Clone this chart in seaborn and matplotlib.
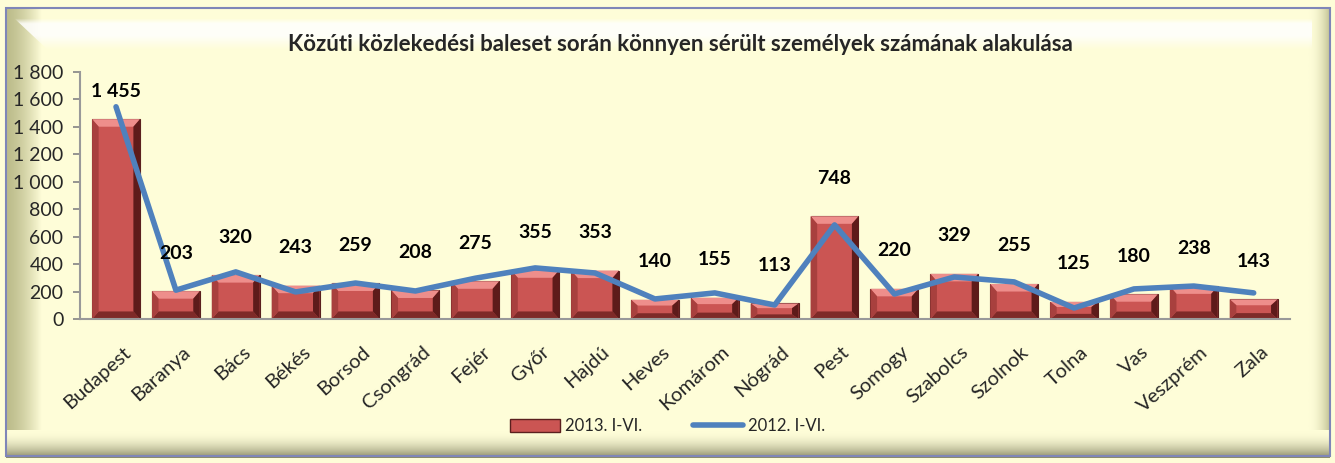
import numpy as np
import matplotlib
matplotlib.use("Agg")
import matplotlib.pyplot as plt
import matplotlib.transforms as mtransforms
import seaborn as sns
from matplotlib.ticker import FuncFormatter
from matplotlib.patches import Rectangle, Polygon, Patch
from matplotlib.lines import Line2D
from matplotlib.colors import LinearSegmentedColormap

# Data
counties = ['Budapest', 'Baranya', 'Bács', 'Békés', 'Borsod', 'Csongrád', 'Fejér', 'Győr',
            'Hajdú', 'Heves', 'Komárom', 'Nógrád', 'Pest', 'Somogy', 'Szabolcs', 'Szolnok',
            'Tolna', 'Vas', 'Veszprém', 'Zala']
injured_2013 = [1455, 203, 320, 243, 259, 208, 275, 355, 353, 140, 155, 113, 748, 220, 329, 255,
                125, 180, 238, 143]
injured_2012 = [1545, 210, 343, 197, 262, 204, 297, 372, 335, 146, 190, 102, 685, 182, 306, 270,
                80, 219, 240, 190]

title = 'Közúti közlekedési baleset során könnyen sérült személyek számának alakulása'
bar_label = '2013. I-VI.'
line_label = '2012. I-VI.'

sns.set_theme(style='white')
plt.rcParams['font.family'] = ['Lato', 'DejaVu Sans']

bg = '#FEFDD8'
bar_color = '#CB5553'
line_color = '#4F81BD'

fig = plt.figure(figsize=(13.35, 4.63), dpi=100)
fig.patch.set_facecolor(bg)

# background frame with shaded edges
bgax = fig.add_axes([0, 0, 1, 1], zorder=-1)
bgax.set_xlim(0, 1335)
bgax.set_ylim(463, 0)
bgax.axis('off')
g = np.linspace(0, 1, 60)
bgax.imshow(g.reshape(1, -1) ** 1.5, extent=[6, 42, 456, 8], aspect='auto',
            cmap=LinearSegmentedColormap.from_list('l', ['#BDBD8C', bg]))
bgax.imshow(g.reshape(1, -1) ** 2, extent=[1308, 1330, 456, 8], aspect='auto',
            cmap=LinearSegmentedColormap.from_list('r', [bg, '#C2C295']))
bgax.imshow(g.reshape(-1, 1) ** 2, extent=[6, 1330, 458, 430], aspect='auto',
            cmap=LinearSegmentedColormap.from_list('b', [bg, '#8A8A68']))

# soft white highlight band near the top
alpha = np.clip(np.minimum(np.linspace(0, 6, 40), np.linspace(2.2, 0, 40)), 0, 1) * 0.85
band = np.ones((40, 1, 4))
band[:, 0, 3] = alpha
img = bgax.imshow(band, extent=[14, 1312, 50, 18], aspect='auto')
clip = Polygon([[14, 18], [1312, 18], [1312, 50], [48, 50]], closed=True, transform=bgax.transData)
img.set_clip_path(clip)
bgax.add_patch(Rectangle((6, 8), 1324, 448, fill=False, edgecolor='#7F86B8', linewidth=1.5))

ax = fig.add_axes([0.060, 0.311, 0.906, 0.534])
ax.set_facecolor('none')

x = np.arange(len(counties))
sns.barplot(x=counties, y=injured_2013, color=bar_color, width=0.8, saturation=1,
            edgecolor='#5A1F1E', linewidth=0.8, ax=ax, zorder=2)

# bevel effect on each bar
for p in ax.patches:
    x0, w, h = p.get_x(), p.get_width(), p.get_height()
    bx = 0.11
    by = min(55, h * 0.3)
    x1 = x0 + w
    ax.add_patch(Polygon([[x0, h], [x1, h], [x1 - bx, h - by], [x0 + bx, h - by]],
                         facecolor='#EE8E8B', edgecolor='none', zorder=2.1))
    ax.add_patch(Polygon([[x0, 0], [x1, 0], [x1 - bx, by], [x0 + bx, by]],
                         facecolor='#7E2A28', edgecolor='none', zorder=2.1))
    ax.add_patch(Polygon([[x1, 0], [x1, h], [x1 - bx, h - by], [x1 - bx, by]],
                         facecolor='#5E1B1A', edgecolor='none', zorder=2.1))
    ax.add_patch(Polygon([[x0, 0], [x0, h], [x0 + bx, h - by], [x0 + bx, by]],
                         facecolor='#A8403E', edgecolor='none', zorder=2.1))

sns.lineplot(x=x, y=injured_2012, color=line_color, linewidth=4, ax=ax, zorder=3)

# data labels above the bars
for i, v in enumerate(injured_2013):
    ypos = min(v + 277, 1655)
    ax.text(i, ypos, f'{v:,}'.replace(',', ' '), ha='center', va='center',
            fontsize=14, fontweight='bold', color='black', zorder=4)

ax.set_ylim(0, 1800)
ax.set_xlim(-0.6, len(counties) - 0.4)
ax.set_yticks(range(0, 1801, 200))
ax.yaxis.set_major_formatter(FuncFormatter(lambda v, p: f'{v:,.0f}'.replace(',', ' ')))
ax.tick_params(axis='y', length=5, color='#888888', labelsize=14, pad=7, left=True)
ax.tick_params(axis='x', length=0, labelsize=14.5, pad=22)
plt.setp(ax.get_xticklabels(), rotation=42, ha='right', va='center', rotation_mode='anchor')
shift = mtransforms.ScaledTranslation(0.12, 0, fig.dpi_scale_trans)
for lab in ax.get_xticklabels():
    lab.set_transform(lab.get_transform() + shift)
ax.set_xlabel('')
ax.set_ylabel('')

for s in ['top', 'right']:
    ax.spines[s].set_visible(False)
for s in ['left', 'bottom']:
    ax.spines[s].set_color('#999999')
    ax.spines[s].set_linewidth(1.5)

fig.text(0.51, 0.903, title, ha='center', va='center', fontsize=16, fontweight='bold')

handles = [Patch(facecolor=bar_color, edgecolor='#5A1F1E', label=bar_label),
           Line2D([0], [0], color=line_color, linewidth=4, label=line_label)]
fig.legend(handles=handles, loc='center', bbox_to_anchor=(0.5, 0.08), ncol=2, frameon=False,
           fontsize=12, handlelength=3.0, handleheight=0.8, columnspacing=3, handletextpad=0.3)

fig.savefig('out.png', dpi=100, facecolor=fig.get_facecolor())
